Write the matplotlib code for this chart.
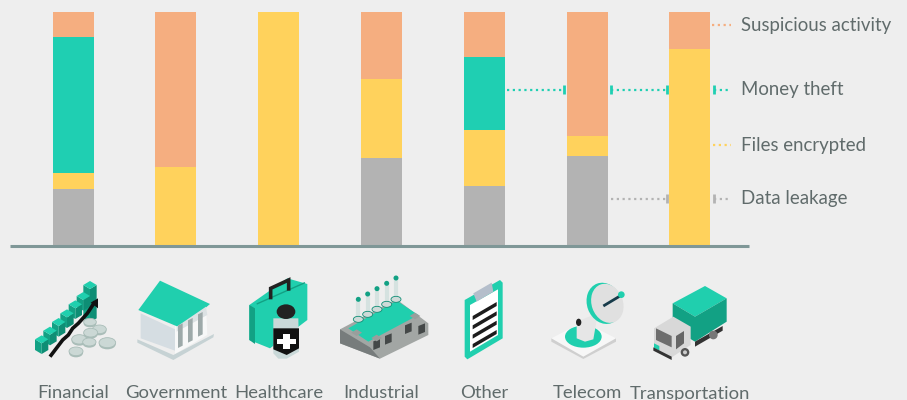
import matplotlib
matplotlib.use("Agg")
import matplotlib.pyplot as plt
from matplotlib.patches import Polygon, Ellipse

categories = ["Financial", "Government", "Healthcare", "Industrial", "Other", "Telecom", "Transportation"]
data_leakage = [24, 0, 0, 37.3, 25.5, 38, 0]
files_encrypted = [7, 33.5, 100, 34, 24, 8.7, 84]
money_theft = [58.3, 0, 0, 0, 31, 0, 0]
suspicious = [10.7, 66.5, 0, 28.7, 19.5, 53.3, 16]

series_names = ["Data leakage", "Files encrypted", "Money theft", "Suspicious activity"]
series_values = [data_leakage, files_encrypted, money_theft, suspicious]
colors = ["#B3B3B3", "#FFD25C", "#1FCFB2", "#F5AE80"]

BG = "#EEEEEE"
TXT = "#606B6B"
G1 = "#20CFAE"
G2 = "#12A184"
G3 = "#0E8E75"

plt.rcParams["font.family"] = ["Lato", "DejaVu Sans"]
fig = plt.figure(figsize=(9.07, 4.0), dpi=100, facecolor=BG)

# bars: one unit on x = one category, 102.8 px apart, first centre at 73 px
step = 102.8
ax = fig.add_axes([0, (400 - 245) / 400, 1, 233 / 400])
ax.set_xlim(-73 / step, (907 - 73) / step)
ax.set_ylim(0, 100)
ax.axis("off")
bottom = [0] * len(categories)
for vals, c in zip(series_values, colors):
    ax.bar(range(len(categories)), vals, width=41 / step, bottom=bottom, color=c, linewidth=0)
    bottom = [b + v for b, v in zip(bottom, vals)]

# overlay in pixel coordinates for legend leaders and icons
ov = fig.add_axes([0, 0, 1, 1], zorder=3)
ov.set_xlim(0, 907)
ov.set_ylim(400, 0)
ov.axis("off")
ov.patch.set_alpha(0)

ov.plot([10, 749], [246, 246], color="#7F9797", lw=2.2, solid_capstyle="butt")


def leader(x0, x1, y, c, ticks=()):
    ov.plot([x0, x1], [y, y], color=c, lw=1.6, ls=(0, (1, 1.6)), dash_capstyle="butt")
    for t in ticks:
        ov.plot([t, t], [y - 4.5, y + 4.5], color=c, lw=2, solid_capstyle="butt")


leader(507, 563, 89.5, colors[2], [563.5])
leader(611, 666, 89.5, colors[2], [610.5, 666.5])
leader(714, 731, 89.5, colors[2], [713.5])
leader(611, 666, 198.5, colors[0], [666.5])
leader(714, 731, 198.5, colors[0], [713.5])
leader(712, 731, 25, colors[3])
leader(713, 731, 145, colors[1])

legend_y = [198.5, 145, 89.5, 25]
for name, y in zip(series_names, legend_y):
    ov.text(741, y, name, color=TXT, fontsize=13.4, va="center", ha="left")

for i, name in enumerate(categories):
    ov.text(73 + step * i, 398.5, name, color=TXT, fontsize=13.3, va="baseline", ha="center", clip_on=True)


def poly(pts, c, ox, oy, z=4):
    # points are read in 3x crop coordinates
    ov.add_patch(Polygon([(ox + x / 3, oy + y / 3) for x, y in pts], closed=True, fc=c, ec="none", zorder=z))


def ell(x, y, w, h, c, ox, oy, z=4, ec="none"):
    ov.add_patch(Ellipse((ox + x / 3, oy + y / 3), w / 3, h / 3, fc=c, ec=ec, lw=0.6, zorder=z))


def line(pts, c, lw, ox, oy, z=5):
    ov.plot([ox + p[0] / 3 for p in pts], [oy + p[1] / 3 for p in pts], color=c, lw=lw, zorder=z,
            solid_capstyle="butt", solid_joinstyle="miter")


# Financial: drawn right to left so the lower steps overlap the higher ones
ox, oy = 0, 260
tops = [(125, 238), (150, 212), (176, 186), (201, 160), (226, 133), (250, 108), (270, 75)]
for x, y in reversed(tops):
    drop = 100 if x == 270 else 32
    poly([(x, y + 12), (x + 20, y), (x + 20, y + drop), (x, y + drop + 12)], G3, ox, oy)
    poly([(x - 20, y), (x, y + 12), (x, y + drop + 12), (x - 20, y + drop)], G2, ox, oy)
    poly([(x - 20, y), (x, y - 12), (x + 20, y), (x, y + 12)], G1, ox, oy)
for x, y, w, h in [(270, 186, 38, 22), (298, 208, 42, 26), (238, 238, 46, 28), (272, 218, 42, 26),
                   (268, 246, 40, 24), (322, 248, 50, 30), (228, 274, 42, 26)]:
    ell(x, y + 5, w, h, "#A9BDB8", ox, oy)
    ell(x, y, w, h, "#CBD8D5", ox, oy, ec="#A9BDB8")
line([(150, 290), (188, 240), (205, 225), (218, 205), (235, 190), (262, 160), (285, 125)], "#111111", 2.6, ox, oy, 6)
poly([(272, 128), (294, 115), (294, 145)], "#111111", ox, oy, 6)

# Government
poly([(422, 160), (525, 208), (525, 272), (422, 235)], "#D5DDE2", ox, oy)
poly([(525, 190), (618, 135), (622, 225), (525, 282)], "#F7F8F8", ox, oy)
poly([(412, 238), (520, 285), (642, 222), (640, 232), (520, 300), (412, 248)], "#C6D2D4", ox, oy)
poly([(415, 150), (480, 62), (630, 132), (545, 205)], G1, ox, oy, 5)
poly([(530, 200), (618, 140), (622, 165), (530, 215)], "#DCE2E4", ox, oy, 5)
for x, y in [(541, 232), (571, 216), (601, 198)]:
    poly([(x - 7, y - 35), (x + 7, y - 42), (x + 7, y + 25), (x - 7, y + 32)], "#9DA9A9", ox, oy, 5)

# Healthcare
poly([(748, 135), (862, 55), (922, 72), (922, 180), (810, 265), (748, 240)], G1, ox, oy)
poly([(748, 135), (765, 145), (765, 252), (748, 240)], G2, ox, oy)
line([(770, 132), (915, 68)], G2, 1, ox, oy)
line([(812, 118), (812, 85), (866, 60), (866, 92)], "#222222", 2.6, ox, oy)
poly([(820, 175), (895, 175), (897, 275), (860, 296), (835, 296), (820, 280)], "#C9D8D8", ox, oy, 5)
poly([(820, 205), (897, 205), (897, 265), (860, 285), (820, 268)], "#111111", ox, oy, 6)
ell(858, 155, 56, 44, "#222222", ox, oy, 6)
poly([(848, 222), (870, 222), (870, 238), (888, 238), (888, 252), (870, 252), (870, 268), (848, 268),
      (848, 252), (830, 252), (830, 238), (848, 238)], "#FFFFFF", ox, oy, 7)

# Industrial
poly([(1020, 208), (1190, 118), (1285, 190), (1285, 225), (1140, 296), (1020, 250)], "#A2A6A4", ox, oy)
poly([(1020, 208), (1110, 262), (1140, 296), (1020, 250)], "#777C7C", ox, oy)
poly([(1045, 205), (1190, 122), (1255, 165), (1105, 245)], G1, ox, oy)
for x, y in [(1130, 256), (1165, 240), (1225, 208), (1265, 210)]:
    poly([(x - 10, y - 12), (x + 10, y - 20), (x + 10, y + 6), (x - 10, y + 14)], "#444848", ox, oy, 5)
for x, y in [(1130, 234), (1245, 168), (1070, 218)]:
    poly([(x - 16, y), (x, y - 10), (x + 16, y), (x, y + 10)], "#999E9C", ox, oy, 6)
for x, y0, y1 in [(1075, 118, 175), (1103, 102, 160), (1131, 86, 145), (1160, 70, 130), (1188, 54, 115)]:
    line([(x, y0), (x, y1)], "#D5E2E0", 3, ox, oy)
    ell(x, y0, 15, 15, G2, ox, oy, 6)
    ell(x, y1 + 3, 30, 18, "#CFDAD8", ox, oy, 5, ec=G3)

# Other
ox, oy = 450, 260
poly([(44, 120), (150, 60), (158, 68), (158, 235), (52, 298), (44, 290)], G1, ox, oy)
poly([(60, 135), (144, 88), (144, 225), (60, 275)], "#FFFFFF", ox, oy)
poly([(70, 100), (125, 68), (130, 95), (80, 125)], "#B4BECB", ox, oy, 5)
for k in range(4):
    y = 168 + k * 28
    poly([(68, y), (140, y - 42), (140, y - 30), (68, y + 12)], "#1C1C1C", ox, oy, 5)

# Telecom
poly([(304, 235), (400, 185), (498, 235), (400, 297)], "#F7F7F7", ox, oy)
poly([(304, 235), (400, 290), (498, 235), (498, 245), (400, 297), (304, 245)], "#CFCFCF", ox, oy)
ell(400, 230, 110, 66, G1, ox, oy, 5)
poly([(380, 185), (430, 165), (440, 180), (430, 238), (405, 245), (380, 235)], "#E6E6E6", ox, oy, 6)
ell(386, 187, 16, 22, "#222222", ox, oy, 7)
ov.add_patch(Ellipse((ox + 463 / 3, oy + 130 / 3), 104 / 3, 126 / 3, angle=-20, fc=G1, ec="none", zorder=7))
ov.add_patch(Ellipse((ox + 472 / 3, oy + 130 / 3), 94 / 3, 120 / 3, angle=-20, fc="#E0E0E0", ec="none", zorder=8))
line([(460, 138), (510, 108)], "#173B4A", 2, ox, oy, 9)
ell(514, 104, 20, 20, G1, ox, oy, 10)

# Transportation
poly([(668, 130), (765, 78), (830, 115), (735, 170)], G1, ox, oy)
poly([(668, 130), (735, 170), (735, 245), (668, 205)], G2, ox, oy)
poly([(735, 170), (830, 115), (830, 185), (735, 245)], G2, ox, oy)
poly([(735, 245), (818, 198), (818, 212), (735, 260)], "#333333", ox, oy)
ell(790, 225, 26, 26, "#777777", ox, oy)
poly([(612, 205), (670, 170), (722, 200), (722, 255), (665, 292), (612, 262)], "#D8D8D8", ox, oy, 5)
poly([(618, 205), (665, 228), (665, 262), (618, 240)], "#6E6E6E", ox, oy, 6)
poly([(678, 228), (702, 213), (702, 250), (678, 268)], "#666666", ox, oy, 6)
poly([(612, 250), (628, 258), (628, 272), (612, 264)], G1, ox, oy, 6)
poly([(610, 262), (665, 290), (665, 300), (610, 272)], "#333333", ox, oy, 6)
ell(705, 277, 26, 26, "#555555", ox, oy, 7)
ell(705, 277, 12, 12, "#CCCCCC", ox, oy, 8)

fig.savefig("out.png", dpi=100, facecolor=BG)
